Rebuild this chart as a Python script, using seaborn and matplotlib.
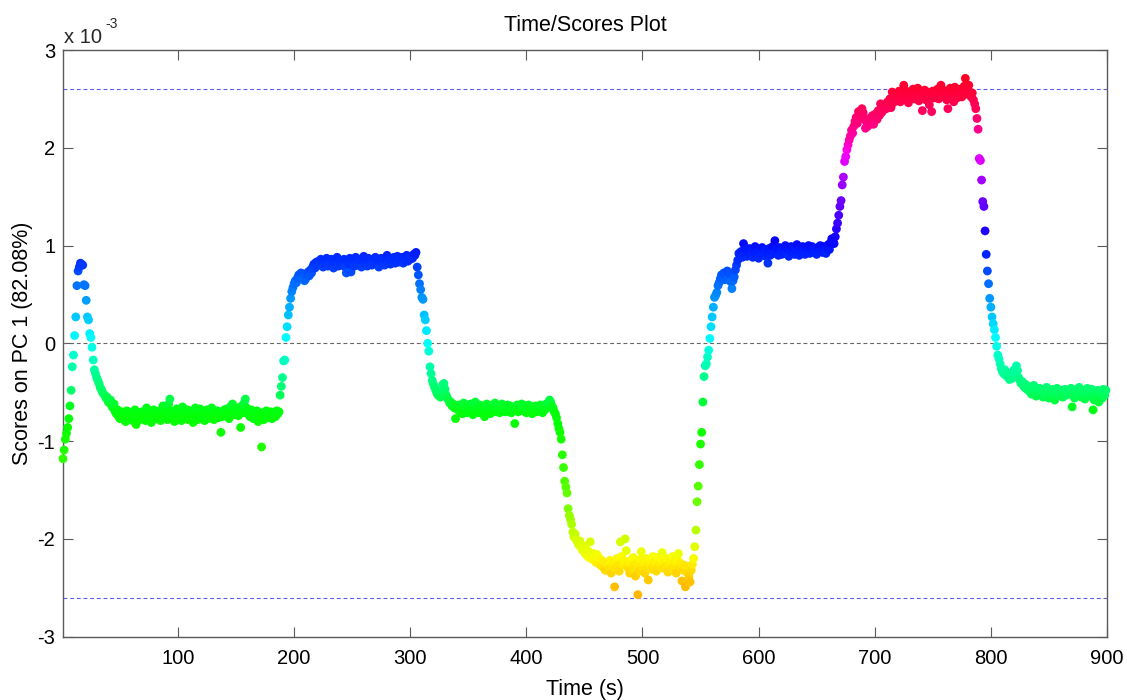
import numpy as np
import pandas as pd
import matplotlib
matplotlib.use("Agg")
import matplotlib.pyplot as plt
import seaborn as sns

# Scores on PC 1, in units of 1e-3, one sample per second.
# Each stretch starts at the given time (s).
start_a = 1
scores_a = [-1.18, -1.09, -0.98, -0.92, -0.86, -0.77, -0.64, -0.48, -0.24, -0.12,
            0.08, 0.27, 0.59, 0.74, 0.78, 0.82, 0.81, 0.80, 0.60, 0.59,
            0.44, 0.27, 0.24, 0.10, 0.06, -0.04, -0.17, -0.27, -0.31, -0.35,
            -0.38, -0.41, -0.45, -0.47, -0.50, -0.52, -0.53, -0.56, -0.55, -0.60,
            -0.61, -0.58, -0.64, -0.66, -0.62, -0.70, -0.72, -0.68, -0.75, -0.77]

start_b = 51
scores_b = [-0.74, -0.70, -0.78, -0.72, -0.80, -0.69, -0.75, -0.77, -0.71, -0.73,
            -0.79, -0.76, -0.68, -0.83, -0.74, -0.71, -0.78, -0.73, -0.70, -0.76,
            -0.72, -0.79, -0.66, -0.74, -0.77, -0.70, -0.81, -0.73, -0.68, -0.75,
            -0.71, -0.77, -0.74, -0.69, -0.79, -0.72, -0.64, -0.76, -0.73, -0.70,
            -0.78, -0.62, -0.57, -0.69, -0.75, -0.71, -0.80, -0.73, -0.67, -0.76,
            -0.74, -0.70, -0.79, -0.65, -0.72, -0.77, -0.71, -0.68, -0.78, -0.73,
            -0.69, -0.75, -0.81, -0.70, -0.66, -0.74, -0.78, -0.72, -0.67, -0.76,
            -0.73, -0.70, -0.79, -0.74, -0.68, -0.77, -0.71, -0.75, -0.66, -0.73,
            -0.78, -0.70, -0.74, -0.69, -0.76, -0.72, -0.91, -0.75, -0.71, -0.68,
            -0.74, -0.67, -0.72, -0.77, -0.65, -0.70, -0.62, -0.73, -0.68, -0.71,
            -0.66, -0.74, -0.69, -0.86, -0.64, -0.71, -0.61, -0.57, -0.66, -0.72,
            -0.70, -0.75, -0.68, -0.73, -0.77, -0.70, -0.74, -0.69, -0.80, -0.72,
            -0.75, -1.06, -0.71, -0.78, -0.73, -0.69, -0.76, -0.72, -0.74, -0.70,
            -0.77, -0.73, -0.71, -0.75, -0.69, -0.72]

start_c = 187
scores_c = [-0.70, -0.53, -0.44, -0.35, -0.18, -0.17, 0.06, 0.17, 0.29, 0.37,
            0.46, 0.53, 0.57, 0.61, 0.64, 0.62, 0.67, 0.70, 0.66, 0.72,
            0.71, 0.68, 0.64, 0.66, 0.70, 0.73, 0.69, 0.75, 0.72, 0.78,
            0.81, 0.77, 0.83, 0.80]

start_d = 221
scores_d = [0.84, 0.80, 0.86, 0.82, 0.78, 0.85, 0.81, 0.87, 0.79, 0.83,
            0.80, 0.86, 0.82, 0.77, 0.84, 0.81, 0.88, 0.79, 0.83, 0.85,
            0.80, 0.82, 0.86, 0.78, 0.72, 0.84, 0.81, 0.87, 0.73, 0.83,
            0.85, 0.79, 0.88, 0.82, 0.80, 0.86, 0.83, 0.78, 0.84, 0.89,
            0.81, 0.85, 0.79, 0.87, 0.82, 0.84, 0.80, 0.86, 0.83, 0.88,
            0.81, 0.85, 0.78, 0.84, 0.87, 0.82, 0.86, 0.80, 0.85, 0.90,
            0.83, 0.87, 0.81, 0.86, 0.84, 0.88, 0.82, 0.85, 0.89, 0.83,
            0.86, 0.84, 0.88, 0.82, 0.87, 0.85, 0.90, 0.84, 0.88, 0.86,
            0.89, 0.87, 0.91, 0.90, 0.93]

start_e = 306
scores_e = [0.78, 0.70, 0.61, 0.55, 0.47, 0.45, 0.29, 0.24, 0.13, 0.00,
            -0.08, -0.24, -0.31, -0.38, -0.42, -0.45, -0.48, -0.51, -0.53, -0.50,
            -0.55, -0.49, -0.42, -0.41, -0.47, -0.53, -0.56, -0.58, -0.61, -0.60,
            -0.64, -0.62, -0.66, -0.77, -0.65]

start_f = 341
scores_f = [-0.68, -0.63, -0.70, -0.66, -0.72, -0.61, -0.68, -0.65, -0.71, -0.64,
            -0.69, -0.62, -0.67, -0.73, -0.65, -0.60, -0.68, -0.66, -0.71, -0.63,
            -0.67, -0.70, -0.64, -0.75, -0.66, -0.62, -0.69, -0.65, -0.72, -0.67,
            -0.63, -0.68, -0.61, -0.70, -0.66, -0.64, -0.71, -0.67, -0.62, -0.69,
            -0.65, -0.70, -0.66, -0.63, -0.68, -0.64, -0.71, -0.66, -0.69, -0.82,
            -0.67, -0.63, -0.70, -0.65, -0.68, -0.62, -0.69, -0.66, -0.64, -0.71,
            -0.66, -0.63, -0.69, -0.67, -0.72, -0.65, -0.68, -0.64, -0.70, -0.66,
            -0.69, -0.63, -0.67, -0.71, -0.65, -0.68, -0.62, -0.66, -0.61, -0.58,
            -0.60, -0.64]

start_g = 423
scores_g = [-0.66, -0.70, -0.72, -0.76, -0.82, -0.87, -0.91, -0.98, -1.14, -1.27,
            -1.41, -1.47, -1.53, -1.69, -1.76, -1.80, -1.85, -1.93, -1.98, -1.95,
            -2.01, -2.03, -2.06, -2.02, -2.08, -2.11, -2.07]

start_h = 450
scores_h = [-2.14, -2.10, -2.17, -2.12, -2.19, -2.03, -2.15, -2.21, -2.15, -2.18,
            -2.24, -2.16, -2.19, -2.26, -2.21, -2.28, -2.23, -2.30, -2.32, -2.25,
            -2.26, -2.31, -2.22, -2.35, -2.28, -2.24, -2.49, -2.30, -2.20, -2.27,
            -2.33, -2.03, -2.18, -2.26, -2.22, -2.00, -2.12, -2.29, -2.24, -2.35,
            -2.22, -2.31, -2.19, -2.27, -2.38, -2.25, -2.57, -2.33, -2.21, -2.13,
            -2.28, -2.24, -2.35, -2.20, -2.30, -2.42, -2.26, -2.22, -2.31, -2.18,
            -2.27, -2.23, -2.33, -2.19, -2.29, -2.25, -2.21, -2.14, -2.30, -2.24,
            -2.28, -2.20, -2.34, -2.26, -2.22, -2.31, -2.18, -2.27, -2.23, -2.35,
            -2.21, -2.15, -2.29, -2.25, -2.43, -2.32, -2.27, -2.49, -2.34, -2.28,
            -2.38, -2.44, -2.32, -2.26]

start_i = 544
scores_i = [-2.20, -2.08, -1.91, -1.62, -1.46, -1.24, -1.03, -0.91, -0.60, -0.34,
            -0.23, -0.21, -0.14, -0.07, 0.05, 0.17, 0.27, 0.37, 0.47, 0.49,
            0.52, 0.59, 0.62, 0.66, 0.70, 0.67, 0.72, 0.65, 0.69, 0.74,
            0.66, 0.71, 0.63, 0.56, 0.64, 0.68, 0.75, 0.80, 0.85, 0.92]

start_j = 584
scores_j = [0.90, 0.94, 0.88, 1.02, 0.92, 0.96, 0.89, 0.93, 0.97, 0.91,
            0.95, 0.88, 0.93, 0.99, 0.90, 0.94, 0.87, 0.96, 0.92, 0.98,
            0.91, 0.95, 0.89, 0.93, 0.82, 0.97, 0.90, 0.94, 0.99, 0.92,
            1.05, 0.93, 0.96, 0.90, 0.98, 0.94, 0.91, 0.97, 0.93, 1.00,
            0.92, 0.96, 0.89, 0.95, 0.99, 0.93, 0.97, 0.91, 0.95, 1.01,
            0.94, 0.90, 0.97, 0.93, 0.99, 0.95, 0.91, 0.98, 0.94, 1.00,
            0.92, 0.96, 0.99, 0.93, 0.97, 0.95, 0.91, 0.98, 0.94, 1.00,
            0.96, 0.93, 0.99, 0.95, 0.92, 0.97, 1.01, 0.96, 1.03, 1.07,
            1.04, 1.02]

start_k = 666
scores_k = [1.09, 1.17, 1.23, 1.31, 1.40, 1.46, 1.62, 1.70, 1.86, 1.91,
            1.98, 2.03, 2.08, 2.12, 2.18, 2.15, 2.22, 2.27, 2.31, 2.25,
            2.37, 2.33, 2.38, 2.40, 2.36, 2.29]

start_l = 692
scores_l = [2.20, 2.26, 2.22, 2.30, 2.25, 2.27, 2.33, 2.24, 2.31, 2.35,
            2.29, 2.38, 2.33, 2.45, 2.36, 2.42, 2.39, 2.44, 2.40, 2.47,
            2.43, 2.50, 2.41, 2.57, 2.46, 2.52, 2.48, 2.55, 2.50, 2.58,
            2.47, 2.56, 2.52, 2.64, 2.49, 2.58, 2.53, 2.46, 2.57, 2.51,
            2.55, 2.60, 2.50, 2.58, 2.53, 2.61, 2.48, 2.56, 2.52, 2.38,
            2.54, 2.59, 2.49, 2.57, 2.52, 2.44, 2.55, 2.37, 2.58, 2.51,
            2.56, 2.53, 2.60, 2.50, 2.57, 2.64, 2.54, 2.59, 2.52, 2.56,
            2.49, 2.40, 2.55, 2.61, 2.53, 2.58, 2.47, 2.62, 2.55, 2.51,
            2.59, 2.54, 2.60, 2.52, 2.57, 2.63, 2.71, 2.55, 2.60, 2.64,
            2.57, 2.52, 2.56, 2.49, 2.45, 2.40]

start_m = 788
scores_m = [2.30, 2.19, 1.89, 1.87, 1.67, 1.45, 1.40, 1.15, 0.91, 0.74,
            0.61, 0.46, 0.37, 0.27, 0.20, 0.14, 0.06, -0.03, -0.12, -0.16,
            -0.21, -0.26, -0.29, -0.31, -0.27, -0.33, -0.30, -0.34, -0.37, -0.32,
            -0.36, -0.30, -0.27, -0.31, -0.23, -0.28, -0.35, -0.38, -0.41, -0.39,
            -0.43, -0.45, -0.42]

start_n = 831
scores_n = [-0.47, -0.44, -0.49, -0.46, -0.52, -0.48, -0.43, -0.50, -0.54, -0.47,
            -0.51, -0.46, -0.53, -0.49, -0.55, -0.48, -0.52, -0.45, -0.50, -0.56,
            -0.49, -0.53, -0.47, -0.51, -0.58, -0.50, -0.46, -0.54, -0.49, -0.52,
            -0.48, -0.55, -0.51, -0.47, -0.53, -0.50, -0.50, -0.52, -0.46, -0.65,
            -0.49, -0.56, -0.51, -0.47, -0.53, -0.45, -0.50, -0.55, -0.48, -0.52,
            -0.57, -0.50, -0.46, -0.53, -0.49, -0.54, -0.47, -0.68, -0.58, -0.51,
            -0.55, -0.48, -0.60, -0.52, -0.50, -0.56, -0.47, -0.53, -0.48]

limit_level = 2.6          # dashed limit lines at +/- this score (1e-3)
x_ticks = [100, 200, 300, 400, 500, 600, 700, 800, 900]
y_ticks = [-3, -2, -1, 0, 1, 2, 3]

stretches = [(start_a, scores_a), (start_b, scores_b), (start_c, scores_c),
             (start_d, scores_d), (start_e, scores_e), (start_f, scores_f),
             (start_g, scores_g), (start_h, scores_h), (start_i, scores_i),
             (start_j, scores_j), (start_k, scores_k), (start_l, scores_l),
             (start_m, scores_m), (start_n, scores_n)]

times, scores = [], []
for t0, vals in stretches:
    times.extend(t0 + np.arange(len(vals)))
    scores.extend(vals)
df = pd.DataFrame({"time": times, "score": scores})

# colour position on the hsv wheel, rising with the score
score_knots = [-2.6, -2.45, -2.3, -2.15, -2.0, -1.6, -1.2, -0.7, -0.5, -0.3, 0.0,
               0.3, 0.6, 0.8, 0.95, 1.1, 1.4, 1.65, 1.9, 2.1, 2.3, 2.6, 2.75]
hue_knots = [0.12, 0.13, 0.15, 0.18, 0.20, 0.27, 0.31, 0.345, 0.405, 0.44, 0.5,
             0.55, 0.60, 0.64, 0.66, 0.69, 0.74, 0.78, 0.83, 0.90, 0.94, 0.98, 0.995]
df["wheel"] = np.interp(df["score"], score_knots, hue_knots)

sns.set_theme(style="white")
plt.rcParams["font.family"] = ["Liberation Sans", "DejaVu Sans"]
plt.rcParams["axes.unicode_minus"] = False

W, H = 1127, 700
fig = plt.figure(figsize=(W / 100, H / 100), dpi=100)
ax_l, ax_r, ax_t, ax_b = 63, 1107, 50, 636.7
ax = fig.add_axes([ax_l / W, 1 - ax_b / H, (ax_r - ax_l) / W, (ax_b - ax_t) / H])

limit_col = "#5c5ce6"
ax.axhline(limit_level, color=limit_col, lw=0.8, ls=(0, (3.5, 2.5)), zorder=1)
ax.axhline(-limit_level, color=limit_col, lw=0.8, ls=(0, (3.5, 2.5)), zorder=1)
ax.axhline(0, color="#666666", lw=0.8, ls=(0, (3.5, 2.5)), zorder=1)

sns.scatterplot(data=df, x="time", y="score", hue="wheel", palette="hsv",
                hue_norm=(0, 1), legend=False, s=40, linewidth=0, alpha=1,
                ax=ax, zorder=3, clip_on=False)

ax.set_xlim(1, 900)
ax.set_ylim(-3, 3)
ax.set_xticks(x_ticks, [str(v) for v in x_ticks])
ax.set_yticks(y_ticks, [str(v) for v in y_ticks])

spine_col = "#5a5a5a"
for sp in ax.spines.values():
    sp.set_color(spine_col)
    sp.set_linewidth(1.0)
    sp.set_visible(True)
ax.tick_params(direction="in", length=7.5, width=0.8, color=spine_col,
               top=True, right=True, bottom=True, left=True,
               labelsize=14.5, labelcolor="black")
ax.tick_params(axis="x", pad=9)
ax.tick_params(axis="y", pad=5.5)

ax.set_title("Time/Scores Plot", fontsize=15.5, pad=13.5, color="black")
ax.set_xlabel("Time (s)", fontsize=15.5, color="black")
ax.xaxis.set_label_coords(0.5, (ax_b - 694.5) / (ax_b - ax_t))
ax.xaxis.label.set_va("baseline")
ax.set_ylabel("Scores on PC 1 (82.08%)", fontsize=15.5, color="black")
ax.yaxis.set_label_coords((22.5 - ax_l) / (ax_r - ax_l), 0.5)
ax.yaxis.label.set_va("center")

# exponent of the score axis
fig.text(64 / W, 1 - 43 / H, "x 10", fontsize=14.5, ha="left", va="baseline")
fig.text(105.5 / W, 1 - 28.5 / H, "-3", fontsize=10, ha="left", va="baseline")

fig.savefig("out.png", dpi=100, facecolor="white")
